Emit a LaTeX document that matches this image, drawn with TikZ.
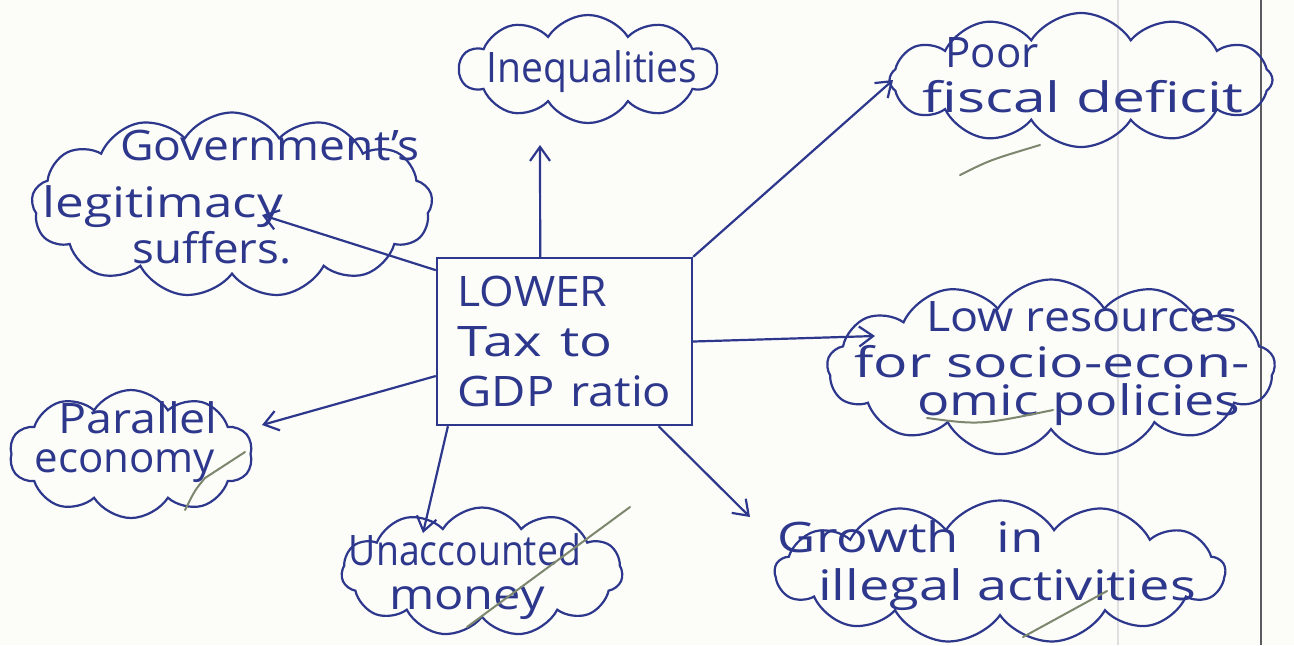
\documentclass[tikz,border=0pt]{standalone}
\usepackage{fontspec}
\usepackage{graphicx}
\setmainfont{Open Sans}
\usetikzlibrary{shapes.symbols,arrows.meta}
\definecolor{ink}{RGB}{45,55,140}
\definecolor{gmark}{RGB}{125,135,110}
\definecolor{paper}{RGB}{252,252,249}
\definecolor{rule}{RGB}{90,90,95}
\newcommand{\hx}[2]{\scalebox{#1}[1]{#2}}
\begin{document}
\begin{tikzpicture}[x=0.5pt,y=-0.5pt,
  cloudbox/.style={shape=cloud, draw=ink, line width=1.1pt, cloud puffs=#1,
    cloud puff arc=115, cloud ignores aspect, inner sep=0pt},
  hw/.style={text=ink, font=\fontsize{21}{22}\selectfont, inner sep=0pt},
  arr/.style={draw=ink, line width=1.1pt, -{Straight Barb[length=7pt,width=10pt]}},
  tick/.style={draw=gmark, line width=1pt, line cap=round}]
\fill[paper] (0,0) rectangle (1294,645);
\useasboundingbox (0,0) rectangle (1294,645);
\draw[black!12, line width=0.6pt] (1118,0) -- (1118,645);
\draw[rule, line width=1pt] (1261,0) -- (1261,645);

% central box
\node[draw=ink, line width=1.2pt, minimum width=127.5pt, minimum height=83.5pt,
  text width=107pt, inner xsep=10pt, align=left, text=ink,
  font=\fontsize{21}{25}\selectfont] (box) at (564.5,341.5)
  {\hx{1.06}{LOWER}\\\hx{1.3}{Tax to}\\\hx{1.12}{GDP ratio}};

% clouds
\node[cloudbox=10, minimum width=128.5pt, minimum height=54pt] (cIneq) at (588,69) {};
\node[cloudbox=12, minimum width=191.5pt, minimum height=67pt] (cPoor) at (1081,80) {};
\node[cloudbox=13, minimum width=200.5pt, minimum height=92.5pt] (cGov) at (232,205) {};
\node[cloudbox=13, minimum width=224pt, minimum height=88.5pt] (cLow) at (1051,368) {};
\node[cloudbox=10, minimum width=121.5pt, minimum height=64pt] (cPar) at (131,454) {};
\node[cloudbox=11, minimum width=140.5pt, minimum height=64.5pt] (cUna) at (482,572) {};
\node[cloudbox=13, minimum width=225pt, minimum height=71.5pt] (cGro) at (1000,572) {};

% texts
\node[hw] (tIneq) at (592,72) {\hx{0.93}{Inequalities}};
\node[hw] (tPoor1) at (992,53) {Poor};
\node[hw] (tPoor2) at (1083,97) {\hx{1.4}{fiscal deficit}};
\node[hw] (tGov1) at (270,145) {\hx{1.1}{Government's}};
\node[hw] (tGov2) at (163,207) {\hx{1.22}{legitimacy}};
\node[hw] (tGov3) at (212,248) {\hx{1.09}{suffers.}};
\node[hw] (tLow1) at (1082,317) {\hx{1.11}{Low resources}};
\node[hw] (tLow2) at (1052,362) {\hx{1.36}{for socio-econ-}};
\node[hw] (tLow3) at (1079,405) {\hx{1.28}{omic policies}};
\node[hw] (tPar1) at (138,418) {\hx{1.11}{Parallel}};
\node[hw] (tPar2) at (125,466) {economy};
\node[hw] (tUna1) at (465,550) {\hx{0.89}{Unaccounted}};
\node[hw] (tUna2) at (467,603) {\hx{1.16}{money}};
\node[hw] (tGro1) at (911,537) {\hx{1.25}{Growth}\hspace{19pt}\hx{1.3}{in}};
\node[hw] (tGro2) at (1007,590) {\hx{1.29}{illegal activities}};

% arrow end points
\coordinate (eGov) at (262,215);
\coordinate (eIneq) at (540,145);
\coordinate (ePoor) at (893,80);
\coordinate (eLow) at (875,336);
\coordinate (ePar) at (262,425);
\coordinate (eUna) at (423,533);
\coordinate (eGro) at (750,517);

\draw[arr] (box.151) -- (eGov);
\draw[arr] (box.106) -- (eIneq);
\draw[arr] (box.north east) -- (ePoor);
\draw[arr] (box.east) -- (eLow);
\draw[arr] (box.195) -- (ePar);
\draw[arr] (box.216) -- (eUna);
\draw[arr] (box.318) -- (eGro);

% grading marks
\draw[tick] (960,175) .. controls (990,160) .. (1040,145);
\draw[tick] (185,510) .. controls (195,490) .. (205,478) -- (245,452);
\draw[tick] (630,507) -- (467,627);
\draw[tick] (1023,637) -- (1107,591);
\draw[tick] (927,418) .. controls (980,425) .. (1053,410);
\end{tikzpicture}
\end{document}
